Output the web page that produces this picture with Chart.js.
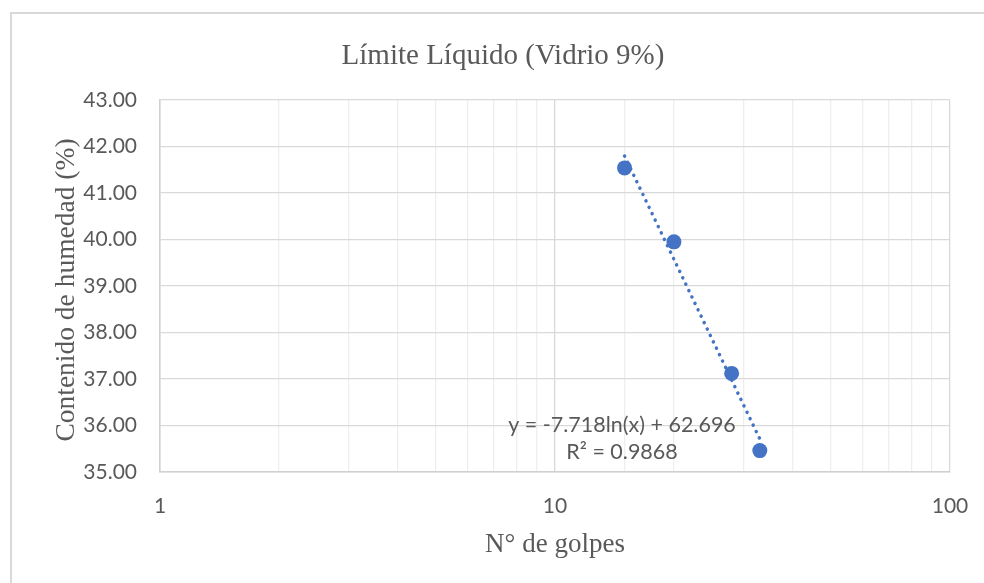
<!DOCTYPE html>
<html>
<head>
<meta charset="utf-8">
<script src="https://cdn.jsdelivr.net/npm/chart.js@4.4.1/dist/chart.umd.min.js"></script>
<style>
  html, body { margin: 0; padding: 0; background: #ffffff; }
  #wrap { position: relative; width: 984px; height: 583px; }
</style>
</head>
<body>
<div id="wrap"><canvas id="chart" width="984" height="583"></canvas></div>
<script>
// Blow counts and moisture contents
const golpes = [15, 20, 28, 33];
const humedad = [41.54, 39.95, 37.12, 35.46];

// Logarithmic trendline coefficients: y = a*ln(x) + b
const trendA = -7.718;
const trendB = 62.696;
const trendR2 = 0.9868;

// Axis tick labels
const xTickLabels = [1, 10, 100];
const yTicks = [35, 36, 37, 38, 39, 40, 41, 42, 43];

const chartTitle = 'Límite Líquido (Vidrio 9%)';
const xTitle = 'N° de golpes';
const yTitle = 'Contenido de humedad (%)';

const blue = '#4472C4';
const textGray = '#595959';
const tickFont = 'Lato, "Open Sans", sans-serif';
const serifFont = '"Liberation Serif", "DejaVu Serif", serif';

const points = golpes.map((x, i) => ({ x: x, y: humedad[i] }));
const xMin = Math.min(...golpes);
const xMax = Math.max(...golpes);
const trend = [xMin, xMax].map(x => ({ x: x, y: trendA * Math.log(x) + trendB }));

const fmt = (v, d) => v.toFixed(d);

// Frame, titles and trendline equation
const decorations = {
  id: 'decorations',
  beforeDraw(chart) {
    const ctx = chart.ctx;
    ctx.save();
    ctx.strokeStyle = '#d9d9d9';
    ctx.lineWidth = 2;
    ctx.strokeRect(11, 13, 1000, 600);
    ctx.restore();
  },
  afterDraw(chart) {
    const ctx = chart.ctx;
    const area = chart.chartArea;
    ctx.save();
    ctx.fillStyle = textGray;
    ctx.textAlign = 'center';
    ctx.textBaseline = 'middle';

    ctx.font = '29px ' + serifFont;
    ctx.fillText(chartTitle, 503, 56);

    ctx.font = '27px ' + serifFont;
    ctx.fillText(xTitle, (area.left + area.right) / 2, 545);

    ctx.save();
    ctx.translate(67, 290);
    ctx.rotate(-Math.PI / 2);
    ctx.font = '27.5px ' + serifFont;
    ctx.fillText(yTitle, 0, 0);
    ctx.restore();

    ctx.font = '21.5px ' + tickFont;
    const eq = 'y = ' + fmt(trendA, 3) + 'ln(x) + ' + fmt(trendB, 3);
    ctx.fillText(eq, 622, 425);
    ctx.fillText('R² = ' + fmt(trendR2, 4), 622, 452);
    ctx.restore();
  }
};

new Chart(document.getElementById('chart'), {
  type: 'scatter',
  data: {
    datasets: [
      {
        label: 'Trend',
        type: 'line',
        data: trend,
        borderColor: blue,
        borderWidth: 3.5,
        borderDash: [0.1, 7],
        borderCapStyle: 'round',
        pointRadius: 0,
        fill: false,
        order: 2
      },
      {
        label: 'Contenido de humedad',
        data: points,
        backgroundColor: blue,
        borderColor: blue,
        borderWidth: 0,
        pointRadius: 7.5,
        pointHoverRadius: 7.5,
        order: 1
      }
    ]
  },
  options: {
    responsive: false,
    animation: false,
    layout: { padding: { left: 0, right: 34, top: 100, bottom: 0 } },
    plugins: {
      legend: { display: false },
      title: { display: false },
      tooltip: { enabled: false }
    },
    scales: {
      x: {
        type: 'logarithmic',
        min: 1,
        max: 100,
        afterFit(scale) {
          scale.height = 111;
          scale.paddingLeft = 0;
          scale.paddingRight = 0;
        },
        border: { display: true, color: '#d0d0d0', width: 1.5 },
        grid: {
          drawTicks: false,
          lineWidth: 1.3,
          color(ctx) {
            const v = ctx.tick ? ctx.tick.value : 0;
            return xTickLabels.includes(v) ? '#d9d9d9' : '#eeeeee';
          }
        },
        ticks: {
          autoSkip: false,
          maxRotation: 0,
          padding: 22,
          color: textGray,
          font: { family: tickFont, size: 21 },
          callback(v) { return xTickLabels.includes(v) ? String(v) : ''; }
        }
      },
      y: {
        min: yTicks[0],
        max: yTicks[yTicks.length - 1],
        afterFit(scale) {
          scale.width = 160;
          scale.paddingTop = 0;
          scale.paddingBottom = 0;
        },
        afterBuildTicks(scale) { scale.ticks = yTicks.map(v => ({ value: v })); },
        border: { display: true, color: '#d0d0d0', width: 1.5 },
        grid: { drawTicks: false, color: '#d9d9d9', lineWidth: 1.3 },
        ticks: {
          padding: 23,
          color: textGray,
          font: { family: tickFont, size: 21 },
          callback(v) { return fmt(v, 2); }
        }
      }
    }
  },
  plugins: [decorations]
});
</script>
</body>
</html>
